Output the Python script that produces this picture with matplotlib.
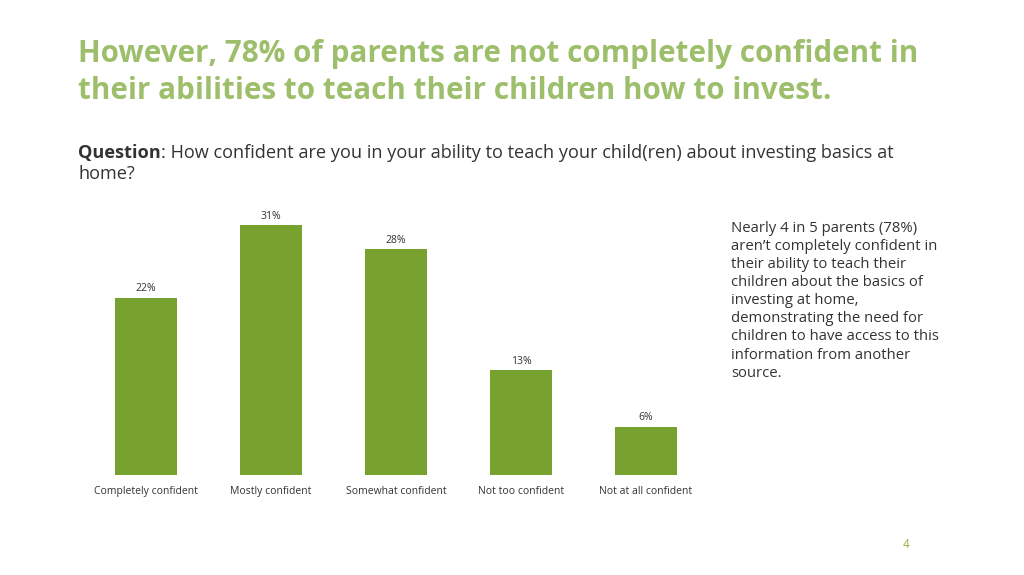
import matplotlib
matplotlib.use("Agg")
import matplotlib.pyplot as plt

categories = ["Completely confident", "Mostly confident", "Somewhat confident",
              "Not too confident", "Not at all confident"]
values = [22, 31, 28, 13, 6]
value_labels = ["22%", "31%", "28%", "13%", "6%"]

title = "However, 78% of parents are not completely confident in\ntheir abilities to teach their children how to invest."
question_bold = "Question"
question_rest = ": How confident are you in your ability to teach your child(ren) about investing basics at"
question_line2 = "home?"
side_note = ("Nearly 4 in 5 parents (78%)\naren\u2019t completely confident in\ntheir ability to teach their\n"
             "children about the basics of\ninvesting at home,\ndemonstrating the need for\n"
             "children to have access to this\ninformation from another\nsource.")
page_num = "4"

plt.rcParams['font.family'] = ['Open Sans', 'DejaVu Sans']

W, H = 1024, 575
fig = plt.figure(figsize=(W / 100, H / 100), dpi=100)
fig.patch.set_facecolor("white")

green_bar = "#78A22F"
green_title = "#9DBF6B"
dark = "#333333"

ax = fig.add_axes([83.5 / W, 1 - 475 / H, 625 / W, 266 / H])
x = list(range(len(categories)))
ax.bar(x, values, width=0.5, color=green_bar)
ax.set_xlim(-0.5, 4.5)
ax.set_ylim(0, 33)
for xi, v, lab in zip(x, values, value_labels):
    ax.annotate(lab, (xi, v), xytext=(0, 2.5), textcoords="offset points",
                ha="center", va="bottom", fontsize=7.5, color=dark)
ax.set_xticks(x)
ax.set_xticklabels(categories, fontsize=7.5, color=dark)
ax.tick_params(axis="x", length=0, pad=8)
ax.set_yticks([])
for s in ax.spines.values():
    s.set_visible(False)

fig.text(78 / W, 1 - 39 / H, title, fontsize=21.3, fontweight="bold",
         color=green_title, va="top", ha="left", linespacing=1.3)

t1 = fig.text(78 / W, 1 - 153 / H, question_bold, fontsize=13.1, fontweight="bold",
              color=dark, va="center", ha="left")
fig.canvas.draw()
bb = t1.get_window_extent()
fig.text(bb.x1 / W, 1 - 153 / H, question_rest, fontsize=13.1, color=dark,
         va="center", ha="left")
fig.text(78 / W, 1 - 174 / H, question_line2, fontsize=13.1, color=dark,
         va="center", ha="left")

fig.text(731 / W, 1 - 221 / H, side_note, fontsize=10.75, color=dark,
         va="top", ha="left", linespacing=1.28)

fig.text(906 / W, 1 - 545 / H, page_num, fontsize=8.5, color="#8DB33F",
         va="center", ha="center")

fig.savefig("out.png", dpi=100, facecolor="white")
